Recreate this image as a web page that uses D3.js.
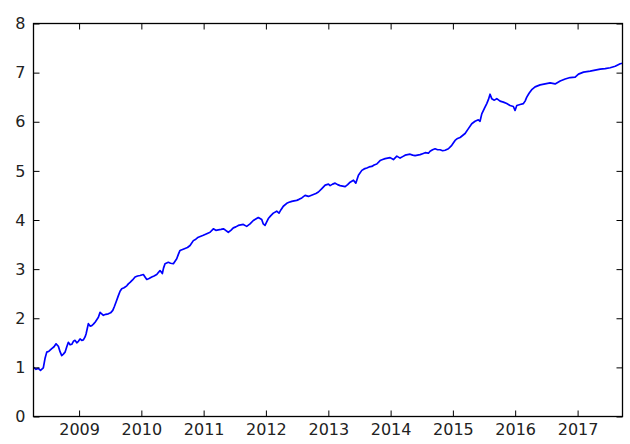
<!DOCTYPE html>
<html>
<head>
<meta charset="utf-8">
<script src="https://cdn.jsdelivr.net/npm/d3@7"></script>
<style>
  html, body { margin: 0; padding: 0; background: #fff; }
  svg { display: block; font-family: "DejaVu Sans", sans-serif; }
</style>
</head>
<body>
<svg id="chart" width="630" height="444"></svg>
<script>
// time in decimal years
const years = [
  2008.270, 2008.310, 2008.347, 2008.382, 2008.427, 2008.454, 2008.482, 2008.518, 2008.562, 2008.599,
  2008.631, 2008.668, 2008.695, 2008.722, 2008.748, 2008.775, 2008.803, 2008.828, 2008.856, 2008.883,
  2008.909, 2008.936, 2008.963, 2008.989, 2009.016, 2009.043, 2009.069, 2009.096, 2009.112, 2009.149,
  2009.177, 2009.204, 2009.230, 2009.257, 2009.284, 2009.310, 2009.337, 2009.364, 2009.390, 2009.429,
  2009.470, 2009.506, 2009.541, 2009.567, 2009.594, 2009.631, 2009.658, 2009.685, 2009.722, 2009.766,
  2009.791, 2009.819, 2009.859, 2009.899, 2009.939, 2009.979, 2010.032, 2010.059, 2010.087, 2010.124,
  2010.167, 2010.204, 2010.247, 2010.273, 2010.300, 2010.337, 2010.356, 2010.380, 2010.433, 2010.469,
  2010.514, 2010.541, 2010.568, 2010.594, 2010.621, 2010.661, 2010.701, 2010.741, 2010.782, 2010.835,
  2010.875, 2010.915, 2010.955, 2010.995, 2011.050, 2011.103, 2011.156, 2011.196, 2011.236, 2011.279,
  2011.316, 2011.343, 2011.396, 2011.437, 2011.477, 2011.517, 2011.557, 2011.597, 2011.637, 2011.692,
  2011.745, 2011.798, 2011.838, 2011.878, 2011.933, 2011.958, 2011.986, 2012.013, 2012.039, 2012.079,
  2012.119, 2012.173, 2012.210, 2012.242, 2012.279, 2012.334, 2012.371, 2012.414, 2012.451, 2012.494,
  2012.531, 2012.575, 2012.628, 2012.681, 2012.721, 2012.761, 2012.801, 2012.841, 2012.896, 2012.949,
  2013.002, 2013.029, 2013.069, 2013.109, 2013.149, 2013.189, 2013.230, 2013.270, 2013.310, 2013.350,
  2013.403, 2013.441, 2013.483, 2013.538, 2013.575, 2013.618, 2013.655, 2013.698, 2013.735, 2013.778,
  2013.831, 2013.872, 2013.912, 2013.952, 2013.992, 2014.045, 2014.100, 2014.152, 2014.193, 2014.233,
  2014.273, 2014.313, 2014.353, 2014.393, 2014.433, 2014.473, 2014.514, 2014.554, 2014.607, 2014.634,
  2014.674, 2014.714, 2014.754, 2014.795, 2014.835, 2014.875, 2014.928, 2014.982, 2015.035, 2015.075,
  2015.116, 2015.156, 2015.196, 2015.249, 2015.303, 2015.356, 2015.409, 2015.436, 2015.464, 2015.506,
  2015.544, 2015.570, 2015.597, 2015.624, 2015.666, 2015.705, 2015.758, 2015.811, 2015.865, 2015.918,
  2015.971, 2015.998, 2016.026, 2016.079, 2016.132, 2016.159, 2016.186, 2016.223, 2016.271, 2016.319,
  2016.400, 2016.480, 2016.560, 2016.640, 2016.721, 2016.801, 2016.881, 2016.961, 2017.014, 2017.095,
  2017.202, 2017.282, 2017.363, 2017.443, 2017.523, 2017.604, 2017.684, 2017.721
];
const values = [
  1.00, 0.96, 0.98, 0.94, 0.99, 1.18, 1.31, 1.33, 1.38, 1.42,
  1.48, 1.43, 1.32, 1.24, 1.27, 1.31, 1.42, 1.51, 1.46, 1.47,
  1.53, 1.55, 1.50, 1.53, 1.58, 1.55, 1.56, 1.62, 1.68, 1.89,
  1.84, 1.85, 1.88, 1.92, 1.97, 2.02, 2.12, 2.09, 2.06, 2.08,
  2.09, 2.11, 2.16, 2.24, 2.33, 2.46, 2.55, 2.60, 2.62, 2.66,
  2.70, 2.73, 2.78, 2.84, 2.86, 2.87, 2.89, 2.84, 2.79, 2.81,
  2.84, 2.86, 2.89, 2.93, 2.97, 2.91, 3.02, 3.11, 3.14, 3.12,
  3.11, 3.16, 3.21, 3.30, 3.38, 3.40, 3.42, 3.44, 3.48, 3.58,
  3.61, 3.65, 3.67, 3.69, 3.72, 3.75, 3.82, 3.79, 3.80, 3.81,
  3.82, 3.80, 3.75, 3.79, 3.84, 3.86, 3.89, 3.90, 3.91, 3.87,
  3.92, 3.99, 4.02, 4.05, 4.01, 3.92, 3.89, 3.96, 4.03, 4.09,
  4.14, 4.18, 4.14, 4.21, 4.28, 4.34, 4.36, 4.38, 4.39, 4.40,
  4.42, 4.45, 4.50, 4.48, 4.50, 4.52, 4.54, 4.57, 4.64, 4.71,
  4.73, 4.70, 4.73, 4.75, 4.72, 4.70, 4.69, 4.68, 4.72, 4.77,
  4.81, 4.75, 4.91, 5.01, 5.04, 5.06, 5.08, 5.09, 5.12, 5.14,
  5.21, 5.23, 5.25, 5.26, 5.27, 5.23, 5.30, 5.26, 5.29, 5.32,
  5.33, 5.34, 5.32, 5.31, 5.32, 5.33, 5.35, 5.37, 5.36, 5.40,
  5.43, 5.45, 5.43, 5.43, 5.41, 5.42, 5.45, 5.52, 5.62, 5.66,
  5.68, 5.72, 5.76, 5.86, 5.96, 6.01, 6.04, 6.01, 6.16, 6.27,
  6.37, 6.45, 6.56, 6.47, 6.44, 6.47, 6.42, 6.40, 6.37, 6.33,
  6.31, 6.23, 6.33, 6.35, 6.37, 6.42, 6.50, 6.58, 6.66, 6.71,
  6.75, 6.77, 6.79, 6.77, 6.83, 6.87, 6.90, 6.91, 6.97, 7.01,
  7.03, 7.05, 7.07, 7.08, 7.10, 7.13, 7.18, 7.19
];
const yTicks = [0, 1, 2, 3, 4, 5, 6, 7, 8];
const xTickYears = [2009, 2010, 2011, 2012, 2013, 2014, 2015, 2016, 2017];

function yearToDate(y) {
  const yr = Math.floor(y);
  const start = Date.UTC(yr, 0, 1), end = Date.UTC(yr + 1, 0, 1);
  return new Date(start + (y - yr) * (end - start));
}
const data = years.map((y, i) => ({ date: yearToDate(y), value: values[i] }));

const svg = d3.select("#chart");
const L = 33.5, R = 622.5, T = 23.5, B = 416.5;

const x = d3.scaleUtc().domain(d3.extent(data, d => d.date)).range([L, R]);
const y = d3.scaleLinear().domain([0, 8]).range([B, T]);

// line
svg.append("path")
  .datum(data)
  .attr("fill", "none")
  .attr("stroke", "#0000ff")
  .attr("stroke-width", 1.7)
  .attr("stroke-linejoin", "round")
  .attr("d", d3.line().x(d => x(d.date)).y(d => y(d.value)));

const xTickDates = xTickYears.map(v => new Date(Date.UTC(v, 0, 1)));
const tickLen = 6;

// bottom axis (ticks inward)
const gB = svg.append("g").attr("transform", `translate(0,${B})`)
  .call(d3.axisBottom(x).tickValues(xTickDates).tickFormat(d3.utcFormat("%Y"))
        .tickSizeInner(-tickLen).tickSizeOuter(0).tickPadding(7));
// top axis
const gT = svg.append("g").attr("transform", `translate(0,${T})`)
  .call(d3.axisTop(x).tickValues(xTickDates).tickFormat("")
        .tickSizeInner(-tickLen).tickSizeOuter(0));
// left axis
const gL = svg.append("g").attr("transform", `translate(${L},0)`)
  .call(d3.axisLeft(y).tickValues(yTicks).tickFormat(d3.format("d"))
        .tickSizeInner(-tickLen).tickSizeOuter(0).tickPadding(8));
// right axis
const gR = svg.append("g").attr("transform", `translate(${R},0)`)
  .call(d3.axisRight(y).tickValues(yTicks).tickFormat("")
        .tickSizeInner(-tickLen).tickSizeOuter(0));

[gB, gT, gL, gR].forEach(g => {
  g.select(".domain").remove();
  g.selectAll(".tick line").attr("stroke", "#000").attr("stroke-width", 1);
  g.selectAll("text").attr("fill", "#222").style("font-size", "16px")
   .style("font-family", '"DejaVu Sans", sans-serif');
});

// frame
svg.append("rect")
  .attr("x", L).attr("y", T).attr("width", R - L).attr("height", B - T)
  .attr("fill", "none").attr("stroke", "#000").attr("stroke-width", 1.3);
</script>
</body>
</html>
